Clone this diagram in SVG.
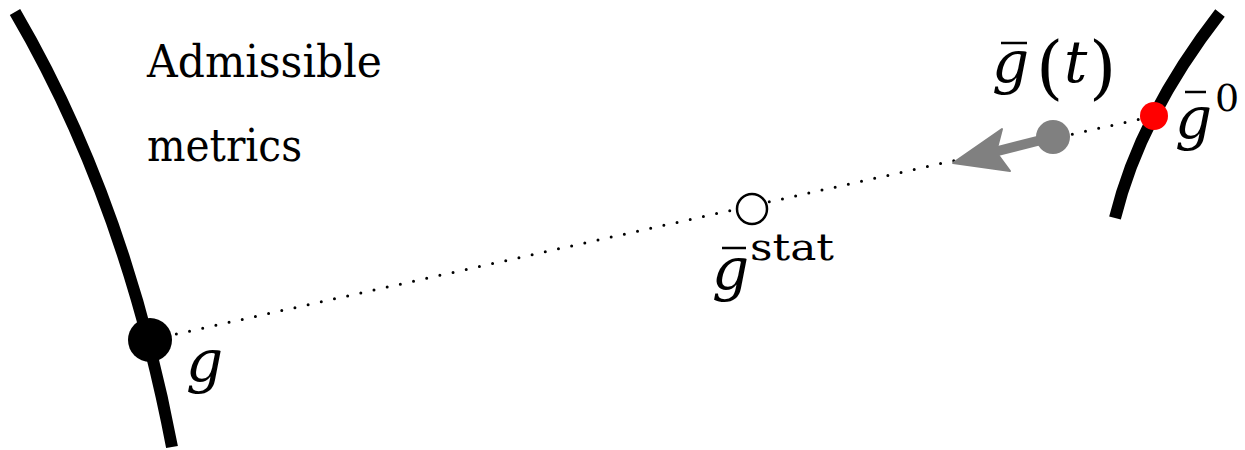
<svg xmlns="http://www.w3.org/2000/svg" width="1245" height="450" viewBox="0 0 1245 450">
<style>
.curve{fill:none;stroke:#000;stroke-width:12}
.lbl{fill:#000;font-family:'DejaVu Serif',serif}
.it{font-style:italic}
.bar{stroke:#000;stroke-width:2.5}
</style>
<rect width="1245" height="450" fill="#fff"/>
<g id="left-boundary"><path class="curve" d="M15,12 Q125,200 172,447"/></g>
<g id="right-boundary"><path class="curve" d="M1220,13 Q1140,116 1115,218"/></g>
<g id="connectors">
<line x1="150" y1="340" x2="1154" y2="116" stroke="#000" stroke-width="3" stroke-linecap="round" stroke-dasharray="0 13.5"/>
<line x1="994" y1="152" x2="1053" y2="137" stroke="#808080" stroke-width="10"/>
<path d="M953,163 L1002,129 L996,152 L1010,171 Z" fill="#808080" stroke="#808080" stroke-width="2" stroke-linejoin="round"/>
</g>
<g id="node-g">
<circle cx="150" cy="340" r="22" fill="#000"/>
<text class="lbl it" x="186" y="381" font-size="58">g</text>
</g>
<g id="node-gstat">
<circle cx="752" cy="209" r="15" fill="#fff" stroke="#000" stroke-width="2.5"/>
<line class="bar" x1="722" y1="248" x2="746" y2="248"/>
<text class="lbl it" x="712" y="289" font-size="58">g</text>
<text class="lbl" x="750" y="260" font-size="38" textLength="84" lengthAdjust="spacingAndGlyphs">stat</text>
</g>
<g id="node-gt">
<circle cx="1053" cy="137" r="17" fill="#808080"/>
<line class="bar" x1="1001" y1="43" x2="1027" y2="43"/>
<text class="lbl" y="82" font-size="58"><tspan class="it" x="992">g</tspan><tspan x="1036" y="91" font-size="70">(</tspan><tspan class="it" x="1064" y="82">t</tspan><tspan x="1089" y="91" font-size="70">)</tspan></text>
</g>
<g id="node-g0">
<circle cx="1154" cy="116" r="14" fill="#ff0000"/>
<line class="bar" x1="1185" y1="92" x2="1206" y2="92"/>
<text class="lbl it" x="1175" y="138" font-size="58">g</text>
<text class="lbl" x="1215" y="111" font-size="38">0</text>
</g>
<g id="label-admissible">
<text class="lbl" x="147" y="77" font-size="45" textLength="235" lengthAdjust="spacingAndGlyphs">Admissible</text>
<text class="lbl" x="147" y="161" font-size="45" textLength="155" lengthAdjust="spacingAndGlyphs">metrics</text>
</g>
</svg>
